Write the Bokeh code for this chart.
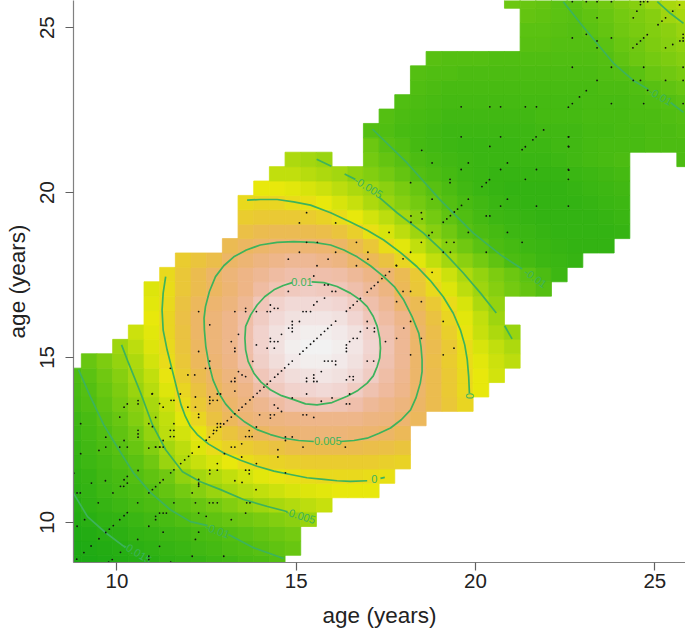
import colorsys
from bokeh.embed import file_html
from bokeh.resources import INLINE
from bokeh.plotting import figure
from bokeh.models import ColumnDataSource, FixedTicker, LinearColorMapper
from bokeh.core.properties import value
from bokeh.transform import transform

AXIS_TITLE = "age (years)"
TICKS = [10, 15, 20, 25]
GRID_X0, GRID_Y0, GRID_DX, GRID_DY = 8.79, 8.78, 0.437, 0.4366

# colour level of each grid cell (0 = deepest green, 100 = white), one row per y step: (first column, levels)
rows = [
 (0, [3,3,4,5,6,7,9,10,11,13,14,16,17,19]),
 (0, [3,4,5,6,8,9,11,12,14,15,17,18,20,22,24]),
 (0, [4,5,7,8,10,11,13,14,16,17,19,21,23,25,27]),
 (0, [5,7,9,10,12,14,16,18,20,22,24,26,28,30,32,35]),
 (0, [6,9,11,13,15,17,19,22,24,27,30,33,36,38,40,42,44]),
 (0, [8,10,13,15,17,19,23,27,31,35,38,41,43,45,47,48,49,50,50,50]),
 (0, [9,11,14,16,19,22,26,33,37,40,43,46,49,51,52,53,54,54,54,53,52]),
 (0, [10,13,15,18,21,26,35,40,44,47,50,53,55,56,57,58,58,58,58,58,57,56]),
 (0, [11,14,17,20,24,30,37,42,48,53,56,58,60,62,64,65,65,65,65,64,63,61]),
 (0, [12,15,18,22,27,34,42,46,51,57,61,65,69,72,73,74,74,74,73,72,70,67]),
 (0, [13,16,20,24,30,36,43,49,55,62,68,73,75,76,77,78,78,78,78,76,75,72,68]),
 (0, [15,18,22,27,32,38,45,53,59,65,71,75,79,83,86,87,88,87,85,81,78,75,70,65,60,55]),
 (0, [16,19,24,29,35,41,48,55,62,68,73,77,84,89,92,93,94,93,90,86,82,78,71,65,59,54,50]),
 (0, [17,21,26,31,37,43,51,58,65,70,75,80,88,92,95,96,97,96,94,90,84,79,71,65,59,54,50,46]),
 (1, [24,29,34,39,46,53,60,68,73,77,84,91,95,98,99,99,98,96,92,86,80,71,64,58,53,49,45,42]),
 (3, [36,42,48,54,61,69,74,78,85,92,96,99,100,100,99,97,93,87,80,71,65,59,53,47,43,39]),
 (4, [45,49,55,62,70,74,78,85,92,96,98,99,99,98,96,92,86,80,71,64,57,51,44,39,35]),
 (5, [50,55,63,70,74,78,84,90,94,96,97,97,96,93,88,83,78,69,62,55,49,43,36]),
 (5, [49,54,62,68,72,75,80,88,92,94,94,94,93,90,85,80,72,66,59,53,47,39,34]),
 (5, [48,53,60,65,69,73,77,83,87,89,90,89,88,85,81,76,67,60,54,48,42,36,31,27,23,19]),
 (6, [54,60,65,70,74,77,80,83,85,85,85,84,81,77,72,66,59,52,45,39,34,29,25,21,17,13]),
 (7, [58,61,64,70,73,76,78,80,80,78,76,71,67,62,55,49,43,37,32,27,22,17,15,13,12,11]),
 (10, [66,69,71,73,73,73,72,70,65,60,53,49,43,37,31,26,21,17,15,13,12,11,10,10,10]),
 (11, [63,65,66,66,65,64,61,57,52,47,42,36,31,26,20,17,15,13,12,11,10,10,10,10,11]),
 (11, [58,59,59,59,58,56,53,50,46,42,37,32,27,22,18,15,13,12,11,10,10,10,10,11,12]),
 (11, [54,55,55,53,52,50,47,44,39,35,31,27,23,19,16,14,12,11,10,10,10,10,11,12,13]),
 (12, [50,50,49,47,45,42,39,36,32,28,24,20,17,14,12,11,10,10,10,10,11,12,13,14]),
 (13, [43,43,41,39,37,33,30,27,23,19,17,15,13,12,11,11,11,11,11,12,13,14,15]),
 (14, [39,37,35,None,None,27,23,20,17,15,14,13,12,12,12,12,12,13,14,15,16,17,None,None,None,17]),
 (19, [25,20,18,15,14,13,12,12,12,12,13,13,14,14,15,16,16,16,17,17,17]),
 (19, [19,18,16,15,14,13,13,13,13,13,13,14,14,14,15,15,16,16,17,17,18]),
 (20, [19,17,16,15,14,14,14,14,14,14,15,15,15,16,16,16,17,17,18,19]),
 (21, [18,17,16,15,15,15,15,15,15,15,15,15,16,16,16,17,18,19,21]),
 (22, [18,17,16,16,16,16,16,16,16,16,16,16,17,17,18,20,22,24]),
 (22, [19,18,18,17,17,17,17,17,17,17,17,17,18,19,21,24,26,28]),
 (23, [20,19,19,19,18,18,18,18,18,18,18,19,22,25,27,29,31]),
 (29, [20,20,19,19,19,21,24,26,29,31,33]),
 (29, [21,21,20,19,21,23,26,28,30,32,35]),
 (29, [23,22,21,20,22,24,27,29,31,36,38]),
 (28, [25,24,23,21,21,24,26,29,31,35,38,40]),
]

# same-age observations (age = age)
diagonal_ages = [8.88,9.08,9.28,9.5,9.69,9.79,9.9,10.08,10.2,10.29,10.89,10.99,11.08,11.2,11.29,11.5,11.59,11.78,11.89,12.0,12.1,12.29,12.49,12.58,12.69,12.78,12.89,12.98,13.08,13.19,13.29,13.4,13.49,13.59,13.71,13.8,13.91,13.99,14.1,14.19,14.28,14.4,14.49,14.59,14.68,14.79,14.89,15.1,15.19,15.29,15.4,15.49,15.58,15.69,15.79,15.88,15.98,16.1,16.4,16.5,16.59,16.7,16.79,16.98,17.09,17.18,17.28,17.39,17.49,17.6,17.79,18.7,19.1,19.2,19.3,19.41,19.5,19.61,19.8,20.18,20.3,20.39,21.3,21.39,21.6,21.69,21.9,22.59,22.7,22.9,23.09,24.39,24.5,24.6,24.69,24.79,25.09,25.2,25.3,25.5,25.69]

# other observed age pairs
pairs_x = [22.7,23.09,23.39,23.79,24.6,24.69,24.8,24.6,24.5,23.39,24.4,23.09,22.7,23.79,23.39,23.39,25.3,25.5,25.7,25.79,25.79,25.79,22.7,23.79,24.69,25.79,23.39,24.4,24.6,25.3,25.79,24.8,23.79,24.69,25.79,22.6,22.6,22.6,
 19.6,20.4,20.7,21.39,21.7,19.6,20.7,20.4,18.5,18.79,19.8,20.89,19.6,20.7,21.7,21.39,19.29,19.29,18.19,18.79,20.89,20.7,21.7,18.49,18.2,18.51,18.2,20.3,20.4,18.79,19.8,20.89,18.49,19.19,19.4,21.3,18.19,19.1,19.3,20.3,17.59,16.68,17.0,17.0,17.98,16.68,17.8,18.79,17.98,18.19,17.8,18.49,22.59,22.59,22.59,22.59,22.59,
 15.29,15.09,16.1,15.29,15.59,15.09,16.1,14.78,15.89,15.58,15.49,14.78,15.79,15.89,16.1,16.0,15.79,15.58,15.49,15.28,15.19,15.4,14.28,14.28,14.19,14.39,14.49,13.29,13.59,13.59,13.89,12.28,12.59,14.89,15.09,14.89,14.79,14.89,14.89,14.59,14.28,14.39,14.49,14.28,14.19,14.39,13.39,13.19,13.29,13.29,13.89,12.28,13.79,12.59,12.47,12.59,11.49,11.98,12.17,13.39,13.49,13.59,13.19,13.29,13.29,13.29,11.77,10.98,15.49,15.49,15.29,15.29,15.49,15.58,15.7,15.79,15.89,16.0,16.1,16.1,14.89,15.29,15.7,16.0,14.39,14.49,14.59,13.98,14.28,14.39,14.28,15.19,15.29,15.49,13.89,13.69,13.69,13.77,13.59,13.48,14.7,14.89,14.7,15.19,16.37,14.49,14.49,13.19,13.29,13.89,12.8,12.59,12.8,13.59,13.69,13.69,14.7,13.0,13.48,12.28,12.28,12.28,12.59,13.29,
 11.51,11.59,11.19,11.29,12.19,12.19,12.59,12.59,12.68,12.8,12.8,12.89,12.59,11.98,12.28,12.28,11.08,11.59,11.49,11.59,11.49,11.59,11.08,11.19,11.29,12.89,12.8,12.7,12.8,
 16.4,16.4,16.4,16.49,16.59,16.7,16.79,16.98,17.18,17.18,16.98,17.49,17.8,18.0,18.19,18.49,18.19,19.1,19.4,19.1,17.16,16.98,16.59,16.49,16.4,16.59,16.49,16.49,16.4,
 9.29,9.68,10.1,10.19,10.29,8.89,8.98,9.89,12.1,12.28,12.28,9.48,10.58,11.59,12.19,12.58,12.68,12.8,9.1,11.08,11.19,11.29,11.08,11.38,12.28,12.49,8.89,10.89,11.29,12.28,12.19,10.58,10.1,9.87,9.77,10.89,10.89,11.19,12.1,11.5,
 8.99,10.08,10.2,10.29,10.59,10.59,10.99,10.89,10.99,10.59,10.59,10.59,9.69,9.69,9.5,8.99,10.08,10.29,10.2,10.89,11.08,11.2,11.29,10.59,10.2,10.29,8.8,13.19,13.59,12.98,13.62,13.71,13.49,13.88]
pairs_y = [25.79,25.79,25.79,25.79,25.79,25.79,25.79,25.7,25.5,25.3,25.3,24.8,24.69,24.69,24.6,24.39,24.39,24.49,24.6,24.6,24.69,24.8,23.8,23.8,23.8,23.8,23.4,23.4,23.4,23.4,23.4,23.1,22.7,22.7,22.7,21.69,21.39,20.68,
 22.6,22.6,22.6,22.6,22.6,21.69,21.69,21.4,21.28,20.9,20.9,20.9,20.7,20.7,20.7,20.4,20.4,20.3,20.3,19.8,19.8,19.59,19.59,19.39,19.29,19.2,19.1,19.29,19.29,18.79,18.79,18.79,18.49,18.49,18.49,18.49,18.19,18.19,18.19,18.19,18.79,18.49,18.19,17.98,17.99,17.78,17.78,17.58,17.0,17.0,16.69,16.69,21.69,21.4,20.7,20.4,19.59,
 19.39,19.08,19.08,18.49,18.49,18.19,18.19,17.98,17.98,17.78,17.47,17.0,17.2,17.2,17.0,17.0,16.8,16.69,16.59,16.39,16.39,16.39,16.59,16.39,16.39,16.49,16.49,16.39,16.49,16.39,16.39,16.39,15.99,16.09,16.09,15.99,15.89,15.89,15.78,15.7,15.58,15.48,15.48,15.48,15.28,15.28,15.7,15.48,15.28,15.18,15.38,15.18,14.88,14.89,14.67,14.67,14.67,14.47,14.47,14.57,14.47,14.42,14.27,14.27,14.37,13.98,13.89,13.89,14.47,14.37,14.37,14.27,14.27,14.27,14.57,14.89,14.89,14.89,14.89,14.78,13.77,13.89,13.67,13.77,13.56,13.46,13.36,13.26,13.26,13.26,13.16,13.26,13.26,13.18,12.89,12.78,12.6,12.6,12.6,12.38,12.59,12.59,12.48,12.28,12.28,12.2,11.98,12.28,12.28,11.78,11.78,11.58,11.58,11.58,11.58,11.47,11.5,12.08,11.98,12.28,11.3,11.14,11.47,11.26,
 13.7,13.7,13.6,13.49,13.8,13.49,13.8,13.7,13.7,13.7,13.89,13.89,13.6,13.49,13.28,13.18,13.18,12.99,12.79,12.79,12.6,12.6,12.28,12.28,12.48,12.99,12.99,12.79,12.88,
 15.38,15.28,15.18,15.48,15.58,15.58,15.78,16.09,15.89,15.78,15.89,15.48,15.58,15.89,16.09,15.58,15.08,15.08,15.28,16.09,14.89,14.89,14.32,14.42,14.32,14.42,13.89,13.59,13.59,
 11.19,11.26,11.09,11.09,11.19,10.89,10.89,10.89,10.89,11.09,11.19,10.59,10.59,10.59,10.59,10.59,10.59,10.59,10.08,10.08,10.28,10.28,10.18,10.28,10.28,10.18,9.88,9.88,9.7,9.7,9.48,9.48,9.09,8.87,8.79,8.97,8.87,9.27,8.97,8.79,
 12.99,13.19,13.49,13.59,13.69,13.59,13.9,12.99,12.9,12.79,12.68,12.58,12.58,12.28,12.18,12.08,12.28,12.28,12.48,12.25,12.28,12.28,12.28,11.57,11.29,11.39,11.49,10.08,10.28,8.97,10.59,10.59,11.21,10.99]

# contour lines (age, age), one named pair per drawn stretch
c_p010_x = [15.43,15.77,16.14,16.51,16.79,16.98,17.15,17.26,17.33,17.35,17.33,17.26,17.15,16.98,16.72,16.42,16.0,15.58,15.26,14.93,14.59,14.28,14.02,13.82,13.66,13.59,13.57,13.59,13.73,13.91,14.12,14.38,14.64,14.89]
c_p010_y = [17.29,17.27,17.15,16.95,16.74,16.54,16.24,15.94,15.58,15.28,14.98,14.73,14.44,14.22,14.0,13.82,13.63,13.56,13.59,13.72,13.84,14.02,14.25,14.52,14.88,15.23,15.58,15.94,16.29,16.59,16.84,17.05,17.18,17.27]
c_p005_x = [16.23,16.61,16.98,17.3,17.63,17.93,18.19,18.34,18.46,18.51,18.51,18.48,18.42,18.23,18.0,17.75,17.44,17.07,16.7,16.33,15.96,15.49,14.93,14.47,14.0,13.61,13.26,12.98,12.75,12.58,12.47,12.43,12.44,12.48,12.56,12.68,12.84,13.03,13.26,13.57,13.91,14.28,14.65,15.07,15.49]
c_p005_y = [12.45,12.48,12.55,12.69,12.86,13.11,13.41,13.77,14.22,14.57,14.93,15.33,15.73,16.24,16.74,17.13,17.45,17.78,18.05,18.26,18.41,18.49,18.51,18.49,18.41,18.26,18.05,17.78,17.45,17.0,16.54,16.19,15.83,15.33,14.83,14.32,13.92,13.59,13.31,13.04,12.81,12.66,12.55,12.48,12.45]
c_0a_x = [13.63,14.0,14.47,14.93,15.4,15.96,16.51,16.98,17.44,17.91,18.37,18.74,19.1,19.38,19.58,19.7,19.77,19.81,19.83]
c_0a_y = [19.77,19.79,19.79,19.72,19.62,19.39,19.11,18.86,18.56,18.18,17.75,17.33,16.84,16.34,15.83,15.38,14.93,14.42,13.92]
c_0b_x = [11.36,11.29,11.26,11.29,11.4,11.54,11.68,11.79,11.91,12.05,12.24,12.56,12.98,13.45,13.91,14.38,14.84,15.3,15.77,16.14,16.51,16.98]
c_0b_y = [17.45,16.95,16.44,15.83,15.23,14.63,14.02,13.56,13.21,12.91,12.66,12.37,12.1,11.88,11.7,11.55,11.45,11.35,11.3,11.26,11.24,11.26]
c_0c_x = [17.35,17.47]
c_0c_y = [11.33,11.36]
c_m005a_x = [15.57,15.98]
c_m005a_y = [21.01,20.8]
c_m005b_x = [16.35,16.65]
c_m005b_y = [20.56,20.4]
c_m005c_x = [17.3,17.82,18.55,19.11,19.66,20.14,20.58]
c_m005c_y = [19.87,19.38,18.77,18.2,17.56,16.95,16.35]
c_m005d_x = [20.81,21.02]
c_m005d_y = [15.96,15.56]
c_m005e_x = [10.13,10.32,10.66,10.99,11.36,11.83,12.33,12.89,13.53,14.2,14.76]
c_m005e_y = [15.38,14.84,13.93,12.96,12.2,11.53,11.23,10.99,10.69,10.48,10.32]
c_m005f_x = [25.07,25.44,25.8]
c_m005f_y = [25.79,25.43,25.13]
c_m010a_x = [8.93,9.26,9.63,10.02,10.46,10.94,11.49,12.05,12.53]
c_m010a_y = [14.63,13.81,12.96,12.26,11.5,10.9,10.38,10.02,9.9]
c_m010b_x = [13.11,13.81,14.65]
c_m010b_y = [9.63,9.23,8.9]
c_m010c_x = [17.13,18.1,19.02,19.94,20.7,21.3]
c_m010c_y = [21.92,20.89,19.77,18.77,18.11,17.68]
c_m010d_x = [22.45,22.93,23.39,23.85,24.4,24.82]
c_m010d_y = [25.79,25.13,24.52,23.92,23.4,23.13]
c_m010e_x = [25.44,25.8]
c_m010e_y = [22.73,22.43]
c_m015_x = [8.78,9.18,9.68,10.24]
c_m015_y = [10.9,10.17,9.69,9.23]

label_text = ["0.01","0.005","0","0","-0.005","-0.005","-0.01","-0.01","-0.01","-0.015"]
label_x = [15.16,15.88,19.83,17.18,17.02,15.12,12.8,21.67,25.15,10.57]
label_y = [17.29,12.45,13.83,11.31,20.16,10.2,9.75,17.41,22.92,9.08]
label_angle = [0,0,1.57,0,-0.55,-0.3,-0.35,-0.62,-0.5,-0.55]


def terrain(n):
    """R's terrain.colors: green to yellow to white through HSV."""
    out = []
    for k in range(n):
        t = k / (n - 1)
        if t <= 0.5:
            u = t / 0.5
            h, s, v = (120 - 60 * u) / 360, 0.88 + 0.07 * u, 0.65 + 0.26 * u
        else:
            u = (t - 0.5) / 0.5
            h, s, v = (60 - 60 * u) / 360, 0.95 * (1 - u), 0.91 + 0.04 * u
        r, g, b = colorsys.hsv_to_rgb(h, s, v)
        out.append("#%02x%02x%02x" % (round(r * 255), round(g * 255), round(b * 255)))
    return out


cell_x, cell_y, cell_level = [], [], []
for j, (start, levels) in enumerate(rows):
    for k, level in enumerate(levels):
        if level is not None:
            cell_x.append(GRID_X0 + GRID_DX * (start + k))
            cell_y.append(GRID_Y0 + GRID_DY * j)
            cell_level.append(level)

p = figure(width=685, height=630, output_backend="svg", toolbar_location=None,
           x_range=(8.79, 25.856), y_range=(8.78, 25.825),
           min_border_left=73, min_border_right=0, min_border_top=0, min_border_bottom=67)
p.outline_line_color = None
p.grid.visible = False
p.background_fill_color = "white"

mapper = LinearColorMapper(palette=terrain(101), low=0, high=100)
src = ColumnDataSource(dict(x=cell_x, y=cell_y, level=cell_level))
p.rect("x", "y", width=GRID_DX, height=GRID_DY, source=src,
       fill_color=transform("level", mapper), line_color=transform("level", mapper), line_width=0.8)

for name_x, name_y in [(c_p010_x, c_p010_y), (c_p005_x, c_p005_y), (c_0a_x, c_0a_y), (c_0b_x, c_0b_y),
                       (c_0c_x, c_0c_y), (c_m005a_x, c_m005a_y), (c_m005b_x, c_m005b_y), (c_m005c_x, c_m005c_y),
                       (c_m005d_x, c_m005d_y), (c_m005e_x, c_m005e_y), (c_m005f_x, c_m005f_y),
                       (c_m010a_x, c_m010a_y), (c_m010b_x, c_m010b_y), (c_m010c_x, c_m010c_y),
                       (c_m010d_x, c_m010d_y), (c_m010e_x, c_m010e_y), (c_m015_x, c_m015_y)]:
    p.line(name_x, name_y, line_color="#3cb35c", line_width=1.7)

p.text(label_x, label_y, text=label_text, angle=label_angle, text_color="#3cb35c",
       text_font=value("Liberation Sans"), text_font_size="11px", text_align="center", text_baseline="middle")

p.scatter(diagonal_ages + pairs_x, diagonal_ages + pairs_y, size=1.8, color="#111111", line_width=0)

for ax in (p.xaxis[0], p.yaxis[0]):
    ax.ticker = FixedTicker(ticks=TICKS)
    ax.axis_label = AXIS_TITLE
    ax.axis_label_text_font = "Liberation Sans"
    ax.axis_label_text_font_style = "normal"
    ax.axis_label_text_font_size = "22.5px"
    ax.axis_label_text_color = "#222222"
    ax.major_label_text_font = "Liberation Sans"
    ax.major_label_text_font_size = "20.5px"
    ax.major_label_text_color = "#222222"
    ax.axis_line_color = "#808080"
    ax.axis_line_width = 1.2
    ax.major_tick_line_color = "#606060"
    ax.major_tick_line_width = 1.2
    ax.major_tick_in = 0
    ax.major_tick_out = 8
    ax.minor_tick_line_color = None
    ax.major_label_standoff = 3
    ax.axis_label_standoff = 12
p.yaxis[0].major_label_orientation = "vertical"
p.yaxis[0].major_label_standoff = 11
p.yaxis[0].axis_label_standoff = 8

open("out.html", "w").write(file_html(p, INLINE))
